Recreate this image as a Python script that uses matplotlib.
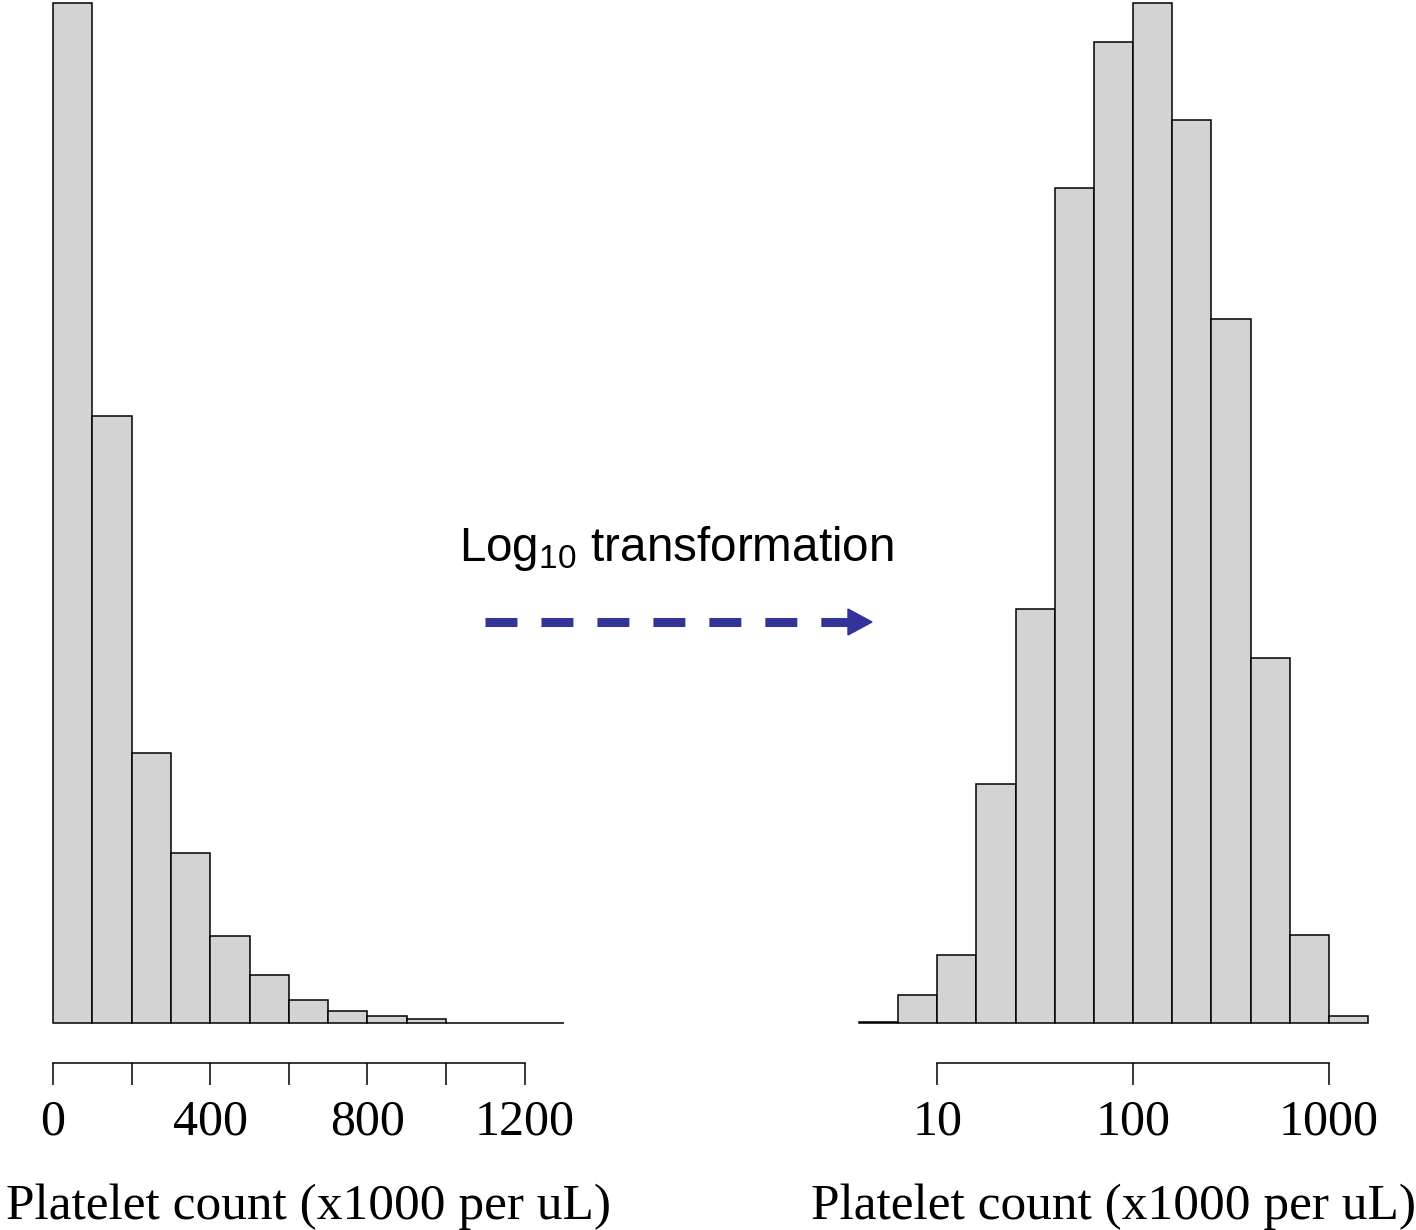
import numpy as np
import matplotlib
matplotlib.use("Agg")
from matplotlib import pyplot as plt
from matplotlib.lines import Line2D
from matplotlib.patches import Polygon

# raw counts, bins of 100 (x1000 per uL)
raw_edges = [0, 100, 200, 300, 400, 500, 600, 700, 800, 900, 1000, 1100, 1200, 1300]
raw_counts = [1020, 607, 270, 170, 87, 48, 23, 12, 7, 4, 0.5, 0.5, 0.5]
raw_ticks = [0, 200, 400, 600, 800, 1000, 1200]
raw_ticklabels = ['0', '', '400', '', '800', '', '1200']

# log10 counts, bins of 0.2 decade
log_edges = [0.6, 0.8, 1.0, 1.2, 1.4, 1.6, 1.8, 2.0, 2.2, 2.4, 2.6, 2.8, 3.0, 3.2]
log_counts = [1, 28, 68, 239, 414, 835, 981, 1020, 903, 704, 365, 88, 7]
log_ticks = [10, 100, 1000]
log_ticklabels = ['10', '100', '1000']

xlabel = 'Platelet count (x1000 per uL)'

plt.rcParams['font.family'] = 'Liberation Serif'
plt.rcParams['lines.scale_dashes'] = False
plt.rcParams['mathtext.fontset'] = 'custom'
plt.rcParams['mathtext.rm'] = 'Liberation Sans'

W, H = 1416, 1230
fig = plt.figure(figsize=(W / 100, H / 100), dpi=100)


def px_axes(x0, x1, ytop, ybot):
    return fig.add_axes([x0 / W, (H - ybot) / H, (x1 - x0) / W, (ybot - ytop) / H])


def style_axis(ax, lo, hi):
    for s in ['top', 'left', 'right']:
        ax.spines[s].set_visible(False)
    ax.spines['bottom'].set_position(('outward', 28.8))
    ax.spines['bottom'].set_bounds(lo, hi)
    ax.spines['bottom'].set_linewidth(1.1)
    ax.set_yticks([])
    ax.tick_params(axis='x', length=16, width=1.1, labelsize=36, pad=10)
    ax.set_xlabel(xlabel, fontsize=37, labelpad=27)
    ax.set_ylim(0, 1020)


bar_kw = dict(color='#d3d3d3', edgecolor='black', linewidth=1.1, clip_on=False)

# left: raw scale
ax1 = px_axes(53, 564, 3, 1023)
ax1.hist(raw_edges[:-1], bins=raw_edges, weights=raw_counts, **bar_kw)
ax1.set_xlim(0, 1300)
ax1.set_xticks(raw_ticks)
ax1.set_xticklabels(raw_ticklabels)
style_axis(ax1, 0, 1200)

# right: log scale
ax2 = px_axes(859, 1368, 3, 1023)
ax2.set_xscale('log')
edges10 = [10 ** e for e in log_edges]
ax2.hist(edges10[:-1], bins=edges10, weights=log_counts, **bar_kw)
ax2.set_xlim(edges10[0], edges10[-1])
ax2.xaxis.set_minor_locator(matplotlib.ticker.NullLocator())
ax2.set_xticks(log_ticks)
ax2.set_xticklabels(log_ticklabels)
style_axis(ax2, 10, 1000)

# annotation
fig.text(459 / W, (H - 561) / H, r'Log$_{\mathrm{10}}$ transformation',
         fontsize=34.3, family='Liberation Sans', ha='left', va='baseline')

navy = '#333399'
ya = (H - 622) / H
line = Line2D([485 / W, 850 / W], [ya, ya], transform=fig.transFigure,
              color=navy, linewidth=6.5, solid_capstyle='butt', dash_capstyle='butt')
line.set_dashes((23, 17.3))
fig.add_artist(line)
head = Polygon([[848 / W, (H - 609) / H], [872 / W, ya], [848 / W, (H - 635) / H]],
               closed=True, transform=fig.transFigure, color=navy)
fig.add_artist(head)

fig.savefig('out.png', dpi=100)
